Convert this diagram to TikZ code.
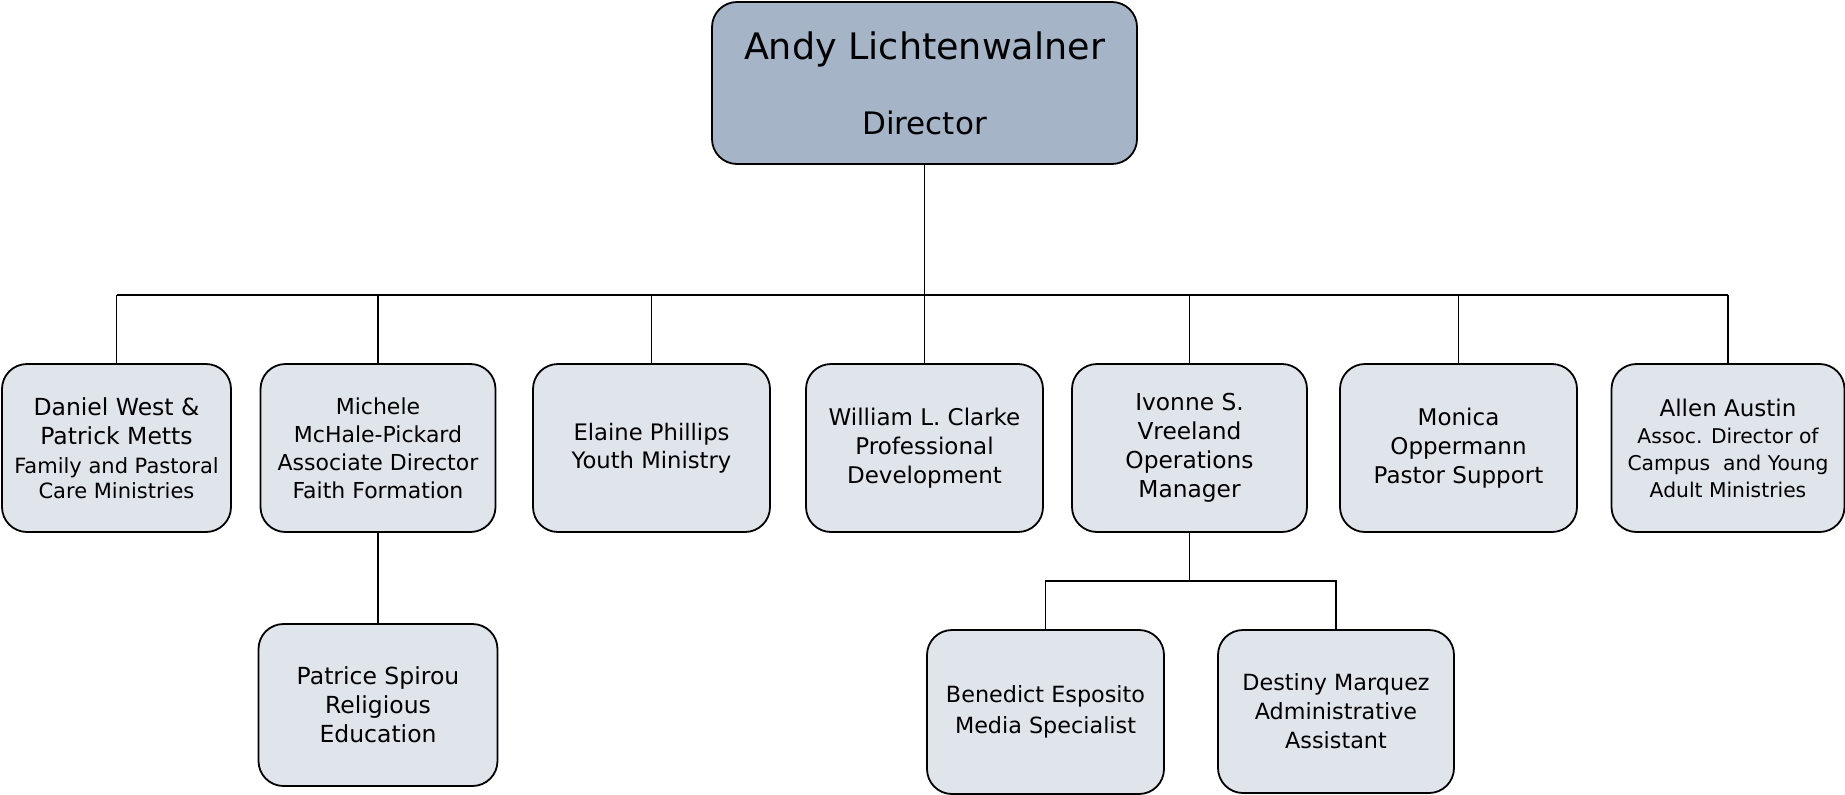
\documentclass[tikz,border=0pt]{standalone}
\usepackage{fontspec}
\setmainfont{DejaVu Sans}
\definecolor{headfill}{RGB}{166,180,200}
\definecolor{stafffill}{RGB}{224,228,235}
\newcommand{\smalltxt}{\fontsize{21}{25}\selectfont}
\tikzset{
  staffbox/.style={draw, line width=1.8pt, rounded corners=25pt, fill=stafffill,
    align=center, inner sep=0pt},
  link/.style={draw, line width=1.9pt}
}
\begin{document}
\begin{tikzpicture}[x=1pt, y=-1pt]
      \useasboundingbox (0,0) rectangle (1845,795);
      \node[staffbox, fill=headfill, minimum width=425pt, minimum height=162pt,
        font=\fontsize{31}{37}\selectfont] (andy) at (924.5, 83)
        {{\fontsize{36.5}{44}\selectfont Andy Lichtenwalner}\\[38pt]Director};

      \def \Staff {
        daniel/116.5/448/229/168/23.5/29/{Daniel West \&\\Patrick Metts\\{\smalltxt Family and Pastoral}\\[-4pt]{\smalltxt Care Ministries}},
        michele/378/448/235/168/22/28/{Michele\\McHale-Pickard\\Associate Director\\Faith Formation},
        elaine/651.5/448/237/168/22.7/28.5/{Elaine Phillips\\Youth Ministry},
        william/924.5/448/237/168/23/29/{William L. Clarke\\Professional\\Development},
        ivonne/1189.5/448/235/168/23.3/29/{Ivonne S.\\Vreeland\\Operations\\Manager},
        monica/1458.5/448/237/168/23/29/{Monica\\Oppermann\\Pastor Support},
        allen/1728/448/233/168/23/27/{Allen Austin\\{\fontsize{20.3}{24}\selectfont Assoc. Director of}\\{\fontsize{20.3}{24}\selectfont Campus\ \ and Young}\\{\fontsize{20.3}{24}\selectfont Adult Ministries}},
        patrice/378/705/239/162/23.5/29/{Patrice Spirou\\Religious\\Education},
        benedict/1045.5/712/237/164/22.3/31/{Benedict Esposito\\Media Specialist},
        destiny/1336/711.5/236/163/22.3/29/{Destiny Marquez\\Administrative\\Assistant}}

      \foreach \id / \x / \y / \w / \h / \fs / \bs / \txt in \Staff {
        \node[staffbox, minimum width=\w pt, minimum height=\h pt,
          font=\fontsize{\fs}{\bs}\selectfont] (\id) at (\x, \y) {\txt};
      }

      % main bar under the director
      \coordinate (hub) at (924.5, 295);
      \path[link] (andy) -- (william);
      \path[link] (daniel.north |- hub) -- (allen.north |- hub);
      \foreach \id in {daniel, michele, elaine, monica, allen, ivonne} {
        \path[link] (\id.north) -- (\id.north |- hub);
      }

      % sub teams
      \coordinate (subhub) at (1189.5, 581);
      \path[link] (michele) -- (patrice);
      \path[link] (ivonne.south) -- (subhub);
      \path[link] (benedict.north) |- (subhub) -| (destiny.north);
\end{tikzpicture}
\end{document}
